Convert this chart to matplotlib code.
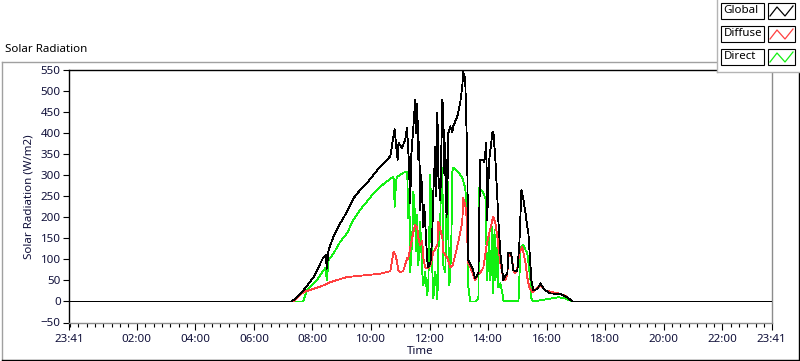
import matplotlib
matplotlib.use("Agg")
import matplotlib.pyplot as plt
from matplotlib.lines import Line2D
from matplotlib.patches import Rectangle
from matplotlib.ticker import FixedLocator
import numpy as np

plt.rcParams['font.family'] = ['Noto Sans', 'DejaVu Sans']

# time is hours after midnight, the chart runs 23:41 (day before) to 23:41
t_start = -19 / 60
t_end = 24 - 19 / 60

global_t = [t_start, 7.27, 7.35, 7.69, 8.04, 8.38, 8.46, 8.49, 8.55, 8.72, 8.95, 9.18, 9.40,
            9.63, 9.86, 10.09, 10.32, 10.66, 10.77, 10.81, 10.86, 10.91, 10.94, 11.06, 11.17,
            11.23, 11.29, 11.34, 11.38, 11.45, 11.51, 11.55, 11.58, 11.62, 11.65, 11.68, 11.72,
            11.79, 11.82, 11.92, 11.96, 12.03, 12.09, 12.13, 12.20, 12.23, 12.27, 12.30, 12.37,
            12.40, 12.44, 12.47, 12.51, 12.54, 12.58, 12.61, 12.64, 12.71, 12.78, 12.81, 12.95,
            13.05, 13.12, 13.15, 13.22, 13.29, 13.32, 13.46, 13.56, 13.67, 13.73, 13.84, 13.87,
            13.94, 13.97, 14.04, 14.15, 14.18, 14.25, 14.32, 14.35, 14.42, 14.52, 14.59, 14.66,
            14.69, 14.79, 14.86, 15.00, 15.07, 15.14, 15.21, 15.28, 15.34, 15.38, 15.48, 15.55,
            15.69, 15.79, 15.89, 15.96, 16.13, 16.47, 16.71, 16.88, t_end]
global_v = [0, 0, 3, 26, 58, 106, 110, 78, 122, 154, 186, 213, 245,
            265, 281, 301, 321, 345, 393, 409, 369, 337, 377, 365, 385,
            413, 337, 234, 350, 416, 480, 400, 470, 337, 380, 217, 300,
            177, 230, 98, 81, 91, 150, 258, 368, 250, 449, 300, 241,
            350, 480, 449, 300, 378, 200, 258, 400, 416, 402, 416, 440,
            473, 512, 545, 528, 337, 98, 81, 55, 67, 337, 337, 330,
            378, 194, 337, 402, 404, 337, 241, 194, 115, 50, 60, 67,
            115, 115, 74, 72, 139, 265, 241, 210, 177, 160, 50, 26,
            30, 43, 32, 26, 19, 18, 10, 0, 0]

diffuse_t = [t_start, 7.34, 7.69, 8.04, 8.37, 8.61, 9.18, 9.75, 10.32, 10.66, 10.77, 10.83,
             10.89, 10.93, 11.00, 11.10, 11.24, 11.27, 11.34, 11.45, 11.51, 11.58, 11.62, 11.68,
             11.75, 11.79, 11.85, 11.92, 12.03, 12.13, 12.27, 12.30, 12.37, 12.44, 12.47, 12.54,
             12.61, 12.71, 12.78, 12.88, 12.98, 13.12, 13.15, 13.22, 13.26, 13.32, 13.39, 13.50,
             13.56, 13.67, 13.73, 13.84, 13.94, 14.01, 14.15, 14.18, 14.25, 14.32, 14.35, 14.42,
             14.52, 14.59, 14.66, 14.69, 14.75, 14.82, 14.86, 14.93, 15.00, 15.07, 15.17, 15.21,
             15.28, 15.34, 15.41, 15.51, 15.79, 15.96, 16.40, 16.64, 16.88, t_end]
diffuse_v = [0, 0, 22, 30, 38, 46, 58, 62, 66, 72, 118, 112,
             95, 74, 70, 72, 103, 100, 127, 165, 182, 175, 151, 134,
             145, 103, 81, 79, 86, 117, 134, 189, 170, 151, 117, 110,
             103, 81, 84, 110, 141, 189, 246, 230, 205, 93, 81, 62,
             50, 69, 67, 81, 129, 153, 194, 201, 186, 153, 129, 91,
             57, 50, 67, 105, 115, 105, 74, 67, 80, 115, 129, 115,
             91, 57, 33, 22, 38, 26, 19, 14, 0, 0]

direct_t = [t_start, 7.68, 7.81, 8.15, 8.38, 8.45, 8.49, 8.55, 8.72, 8.95, 9.18, 9.40, 9.63,
            9.86, 10.09, 10.32, 10.54, 10.77, 10.81, 10.86, 10.90, 11.00, 11.10, 11.24, 11.27,
            11.31, 11.34, 11.41, 11.45, 11.51, 11.55, 11.58, 11.62, 11.68, 11.75, 11.79, 11.85,
            11.92, 11.96, 12.03, 12.06, 12.09, 12.13, 12.20, 12.27, 12.30, 12.37, 12.40, 12.44,
            12.47, 12.54, 12.61, 12.64, 12.68, 12.74, 12.78, 12.81, 12.98, 13.12, 13.22, 13.29,
            13.32, 13.39, 13.56, 13.67, 13.70, 13.81, 13.91, 13.97, 14.04, 14.08, 14.15, 14.18,
            14.22, 14.25, 14.32, 14.35, 14.42, 14.49, 14.52, 14.69, 15.04, 15.11, 15.21, 15.28,
            15.34, 15.38, 15.45, 15.48, 15.55, 15.96, 16.40, 16.64, 16.88, t_end]
direct_v = [0, 0, 26, 50, 74, 80, 50, 98, 114, 142, 162, 194, 218,
            237, 257, 273, 285, 297, 225, 289, 296, 301, 306, 308, 198,
            260, 69, 151, 261, 200, 120, 206, 86, 189, 70, 38, 70,
            14, 45, 301, 150, 86, 7, 70, 5, 120, 200, 325, 300,
            86, 70, 325, 165, 38, 117, 308, 318, 308, 294, 270, 213,
            38, 0, 0, 7, 270, 261, 246, 50, 153, 50, 177, 20,
            170, 50, 129, 33, 43, 20, 2, 0, 2, 129, 134, 122,
            115, 91, 50, 7, 0, 5, 10, 7, 0, 0]

major_hours = [t_start, 2, 4, 6, 8, 10, 12, 14, 16, 18, 20, 22, t_end]
major_labels = ["23:41", "02:00", "04:00", "06:00", "08:00", "10:00", "12:00",
                "14:00", "16:00", "18:00", "20:00", "22:00", "23:41"]

W, H = 800, 361
fig = plt.figure(figsize=(W / 100, H / 100), dpi=100)


def fx(px):
    return px / W


def fy(py):
    return 1 - py / H


ax = fig.add_axes([fx(69), fy(322.5), fx(771.5) - fx(69), fy(70) - fy(322.5)])

# LabVIEW draws its plots without smoothing, so the lines stay crisp
ax.plot(direct_t, direct_v, color="#12f012", lw=0.6, antialiased=False, zorder=2)
ax.plot(diffuse_t, diffuse_v, color="#ff4040", lw=0.6, antialiased=False, zorder=3)
ax.plot(global_t, global_v, color="black", lw=0.6, antialiased=False, zorder=4)

ax.set_xlim(t_start, t_end)
ax.set_ylim(-50, 550)
ax.set_yticks(np.arange(-50, 551, 50))
ax.set_xticks(major_hours)
ax.set_xticklabels(major_labels)
minors = [k * 2 / 7 for k in range(-1, 84) if t_start < k * 2 / 7 < t_end]
ax.xaxis.set_minor_locator(FixedLocator(minors))

ax.tick_params(axis="y", direction="out", length=4, width=0.8, pad=2, labelsize=8.3,
               colors="black", labelcolor="#10103a")
ax.tick_params(axis="x", which="major", direction="out", length=5, width=0.8, pad=3,
               labelsize=8.3, labelcolor="#10103a")
ax.tick_params(axis="x", which="minor", direction="out", length=3, width=0.8)

for side in ["top", "left"]:
    ax.spines[side].set_color("black")
    ax.spines[side].set_linewidth(1.0)
for side in ["right", "bottom"]:
    ax.spines[side].set_color("#8c8c8c")
    ax.spines[side].set_linewidth(1.0)

ax.set_ylabel("Solar Radiation (W/m2)", fontsize=8.3, color="#10103a", labelpad=4)
ax.set_xlabel("Time", fontsize=8.3, color="#10103a", labelpad=1)

fig.text(fx(5), fy(50), "Solar Radiation", fontsize=8.3, va="center", ha="left")

# outer frame of the graph
fig.add_artist(Line2D([fx(2), fx(717)], [fy(62), fy(62)], color="#a0a0a0", lw=1.0))
fig.add_artist(Line2D([fx(2), fx(2)], [fy(62), fy(360)], color="#a0a0a0", lw=1.0))
fig.add_artist(Line2D([fx(2), fx(799)], [fy(359.5), fy(359.5)], color="black", lw=1.0))
fig.add_artist(Line2D([fx(798.5), fx(798.5)], [fy(72), fy(360)], color="black", lw=1.0))

# plot legend in top right corner
fig.add_artist(Rectangle((fx(717), fy(72)), fx(800) - fx(717), fy(0) - fy(72),
                         facecolor="white", edgecolor="none", zorder=5))
fig.add_artist(Line2D([fx(717), fx(717)], [fy(0), fy(72)], color="#b4b4b4", lw=1.0, zorder=6))
fig.add_artist(Line2D([fx(717), fx(800)], [fy(72), fy(72)], color="#b4b4b4", lw=1.0, zorder=6))

legend_names = ["Global", "Diffuse", "Direct"]
legend_colors = ["black", "#ff4040", "#12f012"]
for i, (name, col) in enumerate(zip(legend_names, legend_colors)):
    top = 3 + i * 23
    fig.add_artist(Rectangle((fx(721), fy(top + 15.5)), fx(764) - fx(721), fy(top) - fy(top + 15.5),
                             facecolor="white", edgecolor="black", lw=0.8, zorder=7))
    fig.add_artist(Rectangle((fx(768), fy(top + 15.5)), fx(795) - fx(768), fy(top) - fy(top + 15.5),
                             facecolor="white", edgecolor="black", lw=0.8, zorder=7))
    fig.add_artist(Line2D([fx(770), fx(777), fx(785), fx(793)],
                          [fy(top + 13), fy(top + 4), fy(top + 13), fy(top + 3)],
                          color=col, lw=0.9, zorder=8))
    fig.text(fx(723.5), fy(top + 7.8), name, fontsize=8.3, va="center", ha="left", zorder=8)

fig.savefig("out.png", dpi=100)
